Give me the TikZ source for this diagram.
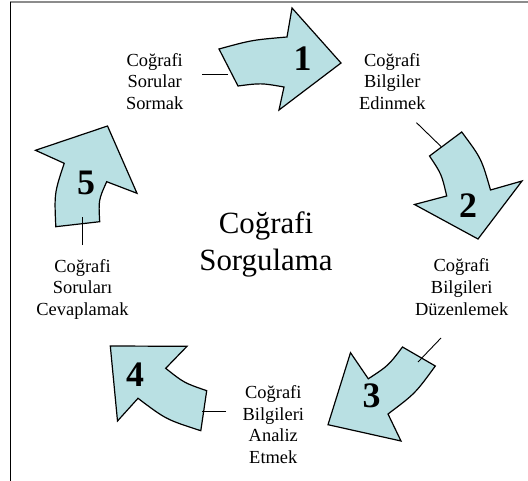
\documentclass[tikz,border=0pt]{standalone}
\usepackage{fontspec}
\setmainfont{Liberation Serif}
\usepackage{xcolor}
\definecolor{cycFill}{HTML}{B9E0E3}
\usepackage{tikz}

\tikzset{
  cycarrow/.style={draw=black, fill=cycFill, line width=1.2bp, line join=miter},
  steplabel/.style={align=center, inner sep=0pt, font=\fontsize{18.5}{21.7}\selectfont},
  stepnum/.style={inner sep=0pt, font=\bfseries\fontsize{36}{36}\selectfont},
  ticklink/.style={draw=black, line width=0.9bp}
}

\begin{document}
\begin{tikzpicture}[x=1bp, y=-1bp]
  \useasboundingbox (0,0) rectangle (528,481);
  % ------- frame -------
  \draw[black!45, line width=1.6bp] (10,2) -- (528,2);
  \draw[black, line width=0.8bp] (10,2) -- (10,481);

  % ------- centre -------
  \node[align=center, inner sep=0pt, font=\fontsize{31}{36.7}\selectfont] (topic) at (266,244.5)
    {Coğrafi\\ Sorgulama};

  % ------- step texts -------
  \node[steplabel] (ask) at (154.7,81.3) {Coğrafi\\ Sorular\\ Sormak};
  \node[steplabel] (gain) at (392.3,81.3) {Coğrafi\\ Bilgiler\\ Edinmek};
  \node[steplabel] (order) at (461.7,287.2) {Coğrafi\\ Bilgileri\\ Düzenlemek};
  \node[steplabel] (analyse) at (273.3,424.7) {Coğrafi\\ Bilgileri\\ Analiz\\ Etmek};
  \node[steplabel] (answer) at (82.5,289.1) {Coğrafi\\ Soruları\\ Cevaplamak};

  % ------- cycle arrows -------
  \draw[cycarrow] (219,49) .. controls (252,40) .. (287,37) -- (292,8) -- (341,63) -- (279,110)
    -- (284,87) .. controls (261,83) .. (238,86) -- cycle;
  \draw[cycarrow] (461.7,132) .. controls (481.4,158.4) .. (490.5,190) -- (522,181) -- (478,239)
    -- (414.5,204.5) -- (446.7,196) .. controls (441.6,174.2) .. (429.5,156) -- cycle;
  \draw[cycarrow] (402.5,347) -- (435.3,366) .. controls (415.3,393.4) .. (388,414) -- (401,441)
    -- (328,424.7) -- (350.5,352.7) -- (368.3,378.8) .. controls (388.4,365.6) .. cycle;
  \draw[cycarrow] (110.3,346) -- (187,346.3) -- (165.7,368.3) .. controls (183.9,382.8) .. (206.7,390.7)
    -- (200.8,430.7) .. controls (166.1,419.5) .. (138,398.3) -- (117.5,421) -- cycle;
  \draw[cycarrow] (107.5,126) -- (137,193.3) -- (106.7,181.7) .. controls (98.5,200) .. (99.7,221.7)
    -- (55.8,226.7) .. controls (54.3,193.2) .. (64.2,163.3) -- (35.5,150.3) -- cycle;

  % numbers
  \foreach \p/\n in {(302.5,59)/1,(468,206)/2,(371.5,396)/3,(135,374.5)/4,(86,183)/5}
    \node[stepnum] (num\n) at \p {\n};

  % ------- ticks from texts to arrows -------
  \coordinate (ask-s) at (202,74);      \coordinate (ask-e) at (228,74);
  \coordinate (gain-s) at (416.5,122.7); \coordinate (gain-e) at (441,146.5);
  \coordinate (order-s) at (441,338);   \coordinate (order-e) at (418,362);
  \coordinate (analyse-s) at (226,411); \coordinate (analyse-e) at (202,411);
  \coordinate (answer-s) at (82,245);   \coordinate (answer-e) at (82,217);
  \foreach \t in {ask,gain,order,analyse,answer}
    \draw[ticklink] (\t-s) -- (\t-e);
\end{tikzpicture}
\end{document}
